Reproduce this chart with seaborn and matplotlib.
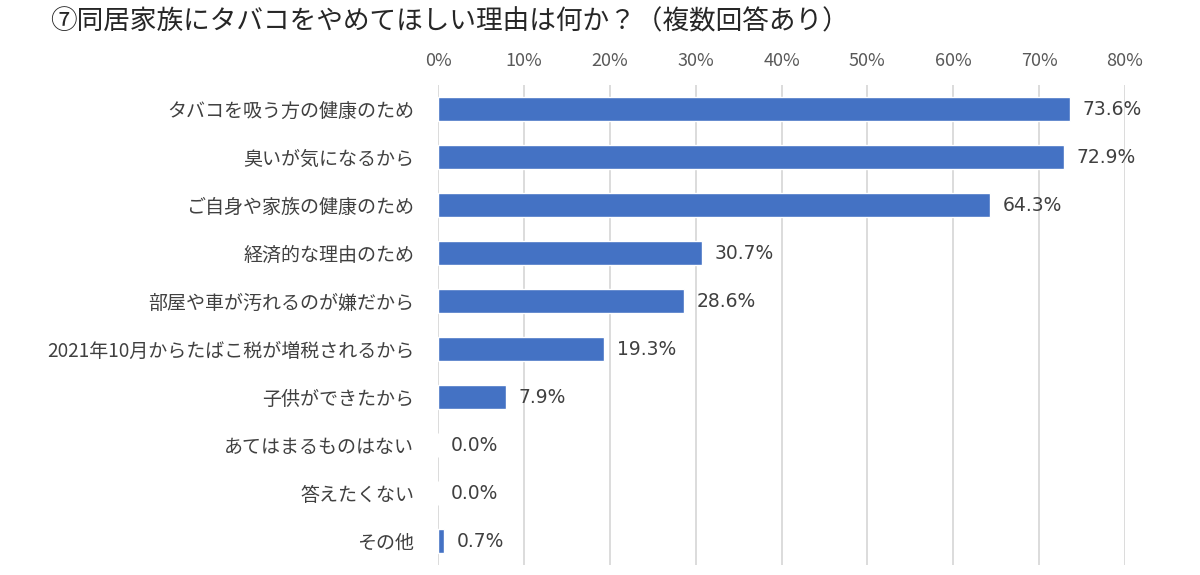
import matplotlib
matplotlib.use("Agg")
import matplotlib.pyplot as plt
import seaborn as sns
import pandas as pd

categories = [
    "タバコを吸う方の健康のため",
    "臭いが気になるから",
    "ご自身や家族の健康のため",
    "経済的な理由のため",
    "部屋や車が汚れるのが嫌だから",
    "2021年10月からたばこ税が増税されるから",
    "子供ができたから",
    "あてはまるものはない",
    "答えたくない",
    "その他",
]
values = [73.6, 72.9, 64.3, 30.7, 28.6, 19.3, 7.9, 0.0, 0.0, 0.7]
tick_values = [0, 10, 20, 30, 40, 50, 60, 70, 80]
tick_labels = [f"{v}%" for v in tick_values]
title = "⑦同居家族にタバコをやめてほしい理由は何か？（複数回答あり）"

sns.set_style("white")
plt.rcParams['font.family'] = ['Noto Sans CJK JP', 'DejaVu Sans']

df = pd.DataFrame({"cat": categories, "val": values})

fig = plt.figure(figsize=(12, 5.75), dpi=100)
ax = fig.add_axes([0.365, 0.0174, 0.9375 - 0.365, 0.852 - 0.0174])
sns.barplot(data=df, x="val", y="cat", orient="h", color="#4472C4",
            width=0.5, ax=ax, saturation=1)
ax.set_xlim(0, 80)
ax.set_ylim(9.5, -0.5)
ax.set_xticks(tick_values)
ax.set_xticklabels(tick_labels, fontsize=13, color="#595959")
ax.xaxis.tick_top()
ax.tick_params(axis="x", length=0, pad=11)
ax.tick_params(axis="y", length=0, pad=17, labelsize=13.7, labelcolor="#404040")
ax.set_xlabel("")
ax.set_ylabel("")
for s in ax.spines.values():
    s.set_visible(False)
ax.grid(axis="x", color="#D9D9D9", linewidth=1.3)
ax.set_axisbelow(True)

for i, v in enumerate(values):
    ax.text(v + 1.5, i, f"{v:.1f}%", va="center", ha="left",
            fontsize=13.5, color="#404040", family=['DejaVu Sans'])

fig.text(0.042, 0.962, title, fontsize=19.2, color="#262626", va="center", ha="left")

fig.savefig("out.png", dpi=100, facecolor="white")
